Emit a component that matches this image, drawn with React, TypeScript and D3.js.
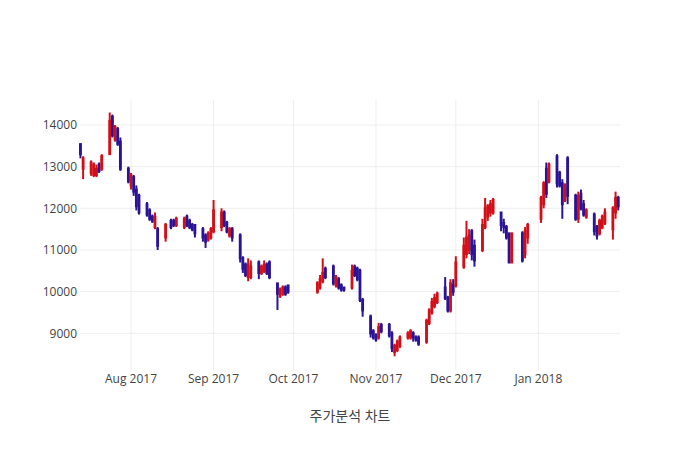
import * as d3 from "d3";
import React from "react";

// trading days and OHLC values
const dates = [
  "2017-07-13", "2017-07-14", "2017-07-17", "2017-07-18", "2017-07-19", "2017-07-20", "2017-07-21",
  "2017-07-24", "2017-07-25", "2017-07-26", "2017-07-27", "2017-07-28", "2017-07-31",
  "2017-08-01", "2017-08-02", "2017-08-03", "2017-08-04", "2017-08-07", "2017-08-08", "2017-08-09",
  "2017-08-10", "2017-08-11", "2017-08-14", "2017-08-16", "2017-08-17", "2017-08-18", "2017-08-21",
  "2017-08-22", "2017-08-23", "2017-08-24", "2017-08-25", "2017-08-28", "2017-08-29", "2017-08-30",
  "2017-08-31", "2017-09-01", "2017-09-04", "2017-09-05", "2017-09-06", "2017-09-07", "2017-09-08",
  "2017-09-11", "2017-09-12", "2017-09-13", "2017-09-14", "2017-09-15", "2017-09-18", "2017-09-19",
  "2017-09-20", "2017-09-21", "2017-09-22", "2017-09-25", "2017-09-26", "2017-09-27", "2017-09-28",
  "2017-09-29", "2017-10-10", "2017-10-11", "2017-10-12", "2017-10-13", "2017-10-16", "2017-10-17",
  "2017-10-18", "2017-10-19", "2017-10-20", "2017-10-23", "2017-10-24", "2017-10-25", "2017-10-26",
  "2017-10-27", "2017-10-30", "2017-10-31", "2017-11-01", "2017-11-02", "2017-11-03", "2017-11-06",
  "2017-11-07", "2017-11-08", "2017-11-09", "2017-11-10", "2017-11-13", "2017-11-14", "2017-11-15",
  "2017-11-16", "2017-11-17", "2017-11-20", "2017-11-21", "2017-11-22", "2017-11-23", "2017-11-24",
  "2017-11-27", "2017-11-28", "2017-11-29", "2017-11-30", "2017-12-01", "2017-12-04", "2017-12-05",
  "2017-12-06", "2017-12-07", "2017-12-08", "2017-12-11", "2017-12-12", "2017-12-13", "2017-12-14",
  "2017-12-15", "2017-12-18", "2017-12-19", "2017-12-20", "2017-12-21", "2017-12-22", "2017-12-26",
  "2017-12-27", "2017-12-28", "2018-01-02", "2018-01-03", "2018-01-04", "2018-01-05", "2018-01-08",
  "2018-01-09", "2018-01-10", "2018-01-11", "2018-01-12", "2018-01-15", "2018-01-16", "2018-01-17",
  "2018-01-18", "2018-01-19", "2018-01-22", "2018-01-23", "2018-01-24", "2018-01-25", "2018-01-26",
  "2018-01-29", "2018-01-30", "2018-01-31",
];

const open = [
  13540, 12950, 12850, 12800, 12800, 13050, 12950,
  13300, 14200, 13650, 13900, 13600, 12950,
  12550, 12750, 12450, 12300, 12100, 11950, 11800,
  11550, 11500, 11300, 11700, 11700, 11600, 11550,
  11800, 11700, 11600, 11600, 11500, 11350, 11250,
  11300, 11450, 11550, 11900, 11650, 11350, 11500,
  11350, 10800, 10650, 10350, 10350, 10700, 10450,
  10500, 10650, 10700, 10200, 9900, 9950, 10100,
  10150, 10000, 10100, 10250, 10550, 10600, 10150,
  10300, 10150, 10100, 10100, 10600, 10550, 10500,
  9800, 9400, 9050, 8950, 8900, 9200, 9200,
  9000, 8550, 8600, 8700, 8900, 8900, 9000,
  8900, 8900, 8800, 9250, 9500, 9650, 9750,
  10100, 9850, 9550, 10150, 10150, 10600, 10900,
  11000, 11450, 11100, 11000, 11550, 11800, 11900,
  11900, 11900, 11650, 11550, 11400, 10700, 11400,
  10900, 11300, 11750, 12100, 12950, 12650, 13250,
  12850, 12600, 12200, 13200, 12300, 11750, 12350,
  12100, 11800, 11850, 11550, 11400, 11550, 11650,
  11500, 11900, 12250,
];

const high = [
  13560, 13250, 13150, 13100, 13050, 13100, 13300,
  14300, 14250, 14000, 13950, 13700, 13000,
  12850, 12800, 12550, 12350, 12150, 12000, 11850,
  11900, 11550, 11650, 11750, 11750, 11800, 11800,
  11850, 11750, 11650, 11600, 11550, 11400, 11450,
  11550, 12200, 12000, 11950, 11700, 11550, 11550,
  11400, 10850, 10700, 10800, 10750, 10750, 10650,
  10750, 10700, 10750, 10200, 10100, 10150, 10150,
  10150, 10250, 10400, 10800, 10600, 10650, 10400,
  10350, 10200, 10100, 10650, 10650, 10600, 10550,
  9850, 9450, 9100, 9000, 9250, 9250, 9250,
  9050, 8750, 8850, 8950, 9050, 9100, 9050,
  8950, 8950, 9350, 9600, 9850, 9950, 10000,
  10350, 9900, 10300, 10300, 10850, 11300, 11700,
  11500, 11500, 11250, 11750, 12250, 12100, 12200,
  12250, 11900, 11750, 11600, 11400, 11400, 11450,
  11550, 11650, 12300, 12650, 13100, 13100, 13300,
  12900, 12700, 12600, 13250, 12350, 12400, 12450,
  12200, 12000, 11900, 11600, 11750, 11850, 12000,
  12050, 12400, 12300,
];

const low = [
  13200, 12700, 12780, 12750, 12750, 12850, 12900,
  13300, 13700, 13600, 13500, 12900, 12600,
  12450, 12300, 11950, 11850, 11800, 11700, 11650,
  11500, 11000, 11200, 11500, 11550, 11550, 11500,
  11550, 11500, 11450, 11300, 11200, 11050, 11200,
  11250, 11400, 11450, 11550, 11400, 11300, 11200,
  10700, 10450, 10350, 10250, 10300, 10300, 10400,
  10450, 10400, 10300, 9560, 9850, 9900, 9900,
  9950, 9950, 10050, 10200, 10300, 10150, 10100,
  10050, 10000, 10000, 10050, 10350, 10250, 9750,
  9400, 8900, 8850, 8800, 8850, 9000, 8900,
  8550, 8450, 8550, 8650, 8850, 8850, 8800,
  8800, 8700, 8750, 9200, 9450, 9600, 9700,
  9800, 9500, 9500, 9900, 10100, 10550, 10800,
  10900, 10750, 10600, 10950, 11500, 11700, 11800,
  11850, 11450, 11400, 11250, 10700, 10700, 10700,
  10800, 11150, 11650, 12000, 12250, 12600, 12500,
  12500, 11750, 12150, 12100, 11700, 11650, 11950,
  11800, 11750, 11350, 11250, 11350, 11500, 11600,
  11250, 11750, 11950,
];

const close = [
  13300, 13200, 13100, 13050, 12950, 12900, 13250,
  14100, 13750, 13950, 13550, 12950, 12650,
  12800, 12400, 12050, 11900, 11850, 11750, 11700,
  11800, 11100, 11600, 11550, 11600, 11750, 11750,
  11600, 11550, 11500, 11400, 11300, 11200, 11400,
  11500, 11950, 11900, 11600, 11450, 11500, 11300,
  10800, 10550, 10400, 10650, 10600, 10450, 10600,
  10650, 10450, 10350, 9950, 10050, 10100, 9950,
  10000, 10200, 10300, 10450, 10350, 10200, 10350,
  10100, 10050, 10050, 10500, 10400, 10300, 9800,
  9550, 9000, 8900, 8850, 9150, 9050, 8950,
  8650, 8700, 8800, 8900, 9000, 9050, 8900,
  8850, 8750, 9300, 9550, 9750, 9850, 9950,
  9850, 9550, 10200, 10000, 10700, 11100, 11300,
  11350, 10900, 10750, 11600, 12000, 12050, 12100,
  12200, 11600, 11550, 11300, 10700, 11400, 10750,
  11450, 11600, 12250, 12600, 12350, 13050, 12600,
  12550, 12100, 12500, 12300, 11750, 12300, 12000,
  11850, 11950, 11450, 11350, 11700, 11800, 11900,
  12000, 12250, 12050,
];

const yTicks = [9000, 10000, 11000, 12000, 13000, 14000];
const xTitle = "주가분석 차트";

const W = 700;
const H = 450;
const margin = { l: 80, r: 80, t: 100, b: 80 };
const upColor = "#d20f17";
const downColor = "#2a1396";
const font = "'Open Sans', 'Noto Sans CJK KR', sans-serif";

const parse = d3.timeParse("%Y-%m-%d");

const App: React.FC = () => {
  const x = d3
    .scaleTime()
    .domain([new Date(2017, 6, 12, 20), new Date(2018, 0, 31, 16)])
    .range([margin.l, W - margin.r]);
  const y = d3
    .scaleLinear()
    .domain([8120, 14600])
    .range([H - margin.b, margin.t]);

  const dayPx = x(new Date(2017, 7, 2)) - x(new Date(2017, 7, 1));
  const boxW = dayPx * 0.3;
  const monthTicks = x.ticks(d3.timeMonth.every(1)!);
  const fmt = d3.timeFormat("%b %Y");

  const candles = dates.map((d, i) => ({
    date: parse(d)!,
    o: open[i],
    h: high[i],
    l: low[i],
    c: close[i],
  }));

  return (
    <svg
      width={W}
      height={H}
      style={{ position: "absolute", left: 0, top: 0, background: "#fff" }}
      fontFamily={font}
    >
      <g>
        {monthTicks.map((t) => (
          <line
            key={"gx" + t.getTime()}
            x1={x(t)}
            x2={x(t)}
            y1={margin.t}
            y2={H - margin.b}
            stroke="#eee"
            strokeWidth={1}
          />
        ))}
        {yTicks.map((v) => (
          <line
            key={"gy" + v}
            x1={margin.l}
            x2={W - margin.r}
            y1={y(v)}
            y2={y(v)}
            stroke="#eee"
            strokeWidth={1}
          />
        ))}
      </g>
      <g>
        {candles.map((d) => {
          const cx = x(d.date);
          const col = d.c >= d.o ? upColor : downColor;
          const top = y(Math.max(d.o, d.c));
          const bot = y(Math.min(d.o, d.c));
          return (
            <g key={d.date.getTime()}>
              <line x1={cx} x2={cx} y1={y(d.h)} y2={y(d.l)} stroke={col} strokeWidth={2} />
              <rect
                x={cx - boxW / 2}
                y={top}
                width={boxW}
                height={Math.max(bot - top, 0.5)}
                fill={col}
                fillOpacity={0.5}
                stroke={col}
                strokeWidth={2}
              />
            </g>
          );
        })}
      </g>
      <g fontSize={12} fill="#444">
        {yTicks.map((v) => (
          <text key={"ty" + v} x={margin.l - 3} y={y(v)} dy="0.35em" textAnchor="end">
            {v}
          </text>
        ))}
        {monthTicks.map((t) => (
          <text key={"tx" + t.getTime()} x={x(t)} y={H - margin.b + 4} dy="0.71em" textAnchor="middle">
            {fmt(t)}
          </text>
        ))}
      </g>
      <text x={margin.l + (W - margin.l - margin.r) / 2} y={421} textAnchor="middle" fontSize={14} fill="#444">
        {xTitle}
      </text>
    </svg>
  );
};

export default App;
